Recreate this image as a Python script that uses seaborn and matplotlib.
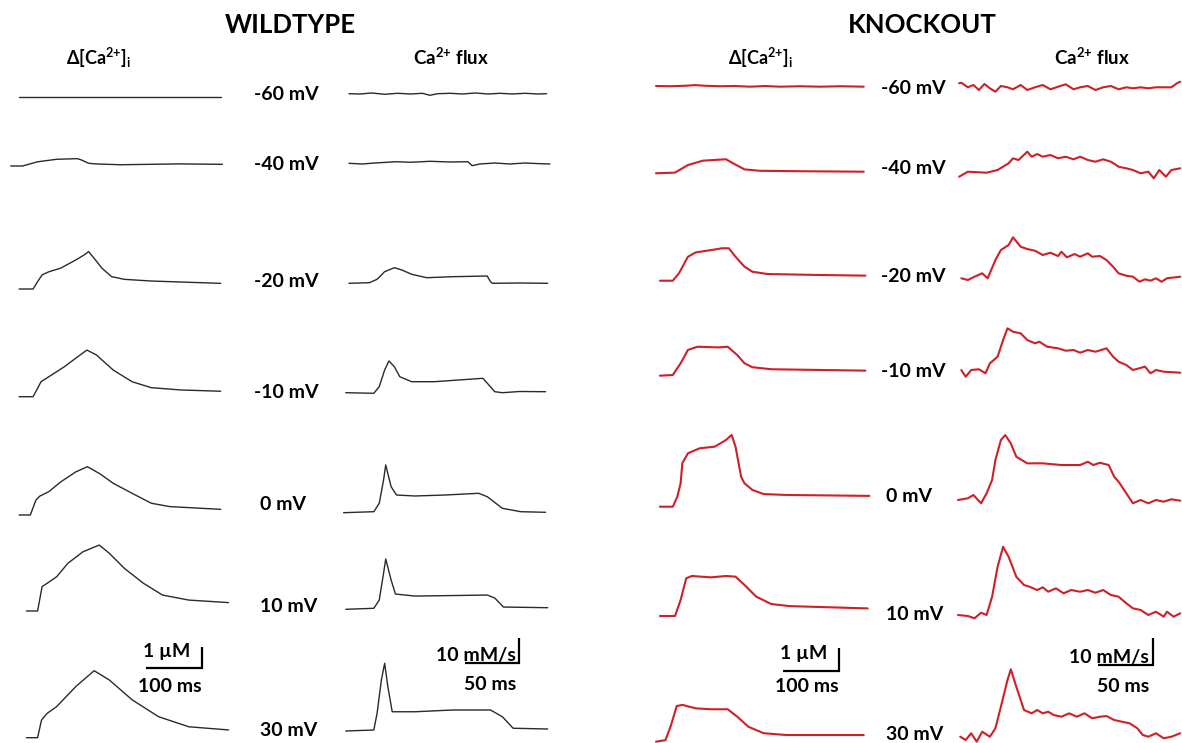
import matplotlib
matplotlib.use("Agg")
import matplotlib.pyplot as plt
import seaborn as sns

# ---------------- data (time in ms, Ca in uM, flux in mM/s) ----------------
VOLTAGES = ["-60 mV", "-40 mV", "-20 mV", "-10 mV", "0 mV", "10 mV", "30 mV"]

WT_CA_T = {
    "-60 mV": [2, 90, 180, 270, 362],
    "-40 mV": [-13, 8, 35, 69, 106, 113, 126, 138, 182, 236, 289, 365],
    "-20 mV": [2, 27, 35, 43, 55, 76, 103, 118, 126, 136, 150, 167, 190, 238, 305, 362],
    "-10 mV": [2, 27, 35, 41, 55, 83, 103, 123, 140, 170, 204, 238, 291, 362],
    "0 mV": [2, 22, 32, 39, 55, 76, 103, 124, 147, 170, 204, 238, 271, 362],
    "10 mV": [15, 35, 43, 52, 69, 89, 116, 145, 163, 190, 224, 258, 305, 376],
    "30 mV": [15, 35, 42, 52, 69, 103, 136, 163, 204, 251, 305, 376],
}
WT_CA_V = {
    "-60 mV": [0, 0, 0, 0, 0],
    "-40 mV": [0, 0, 0.20, 0.32, 0.35, 0.29, 0.13, 0.10, 0.06, 0.08, 0.10, 0.08],
    "-20 mV": [0, 0, 0.35, 0.67, 0.82, 0.99, 1.38, 1.62, 1.78, 1.46, 0.99, 0.59, 0.46, 0.38, 0.32, 0.27],
    "-10 mV": [0, 0, 0.40, 0.71, 0.95, 1.43, 1.83, 2.22, 1.99, 1.27, 0.71, 0.43, 0.32, 0.26],
    "0 mV": [0, 0, 0.71, 0.90, 1.11, 1.57, 2.05, 2.30, 1.95, 1.51, 1.03, 0.56, 0.40, 0.27],
    "10 mV": [0, 0, 1.16, 1.32, 1.63, 2.27, 2.82, 3.14, 2.75, 2.03, 1.32, 0.76, 0.52, 0.40],
    "30 mV": [0, 0, 0.84, 1.16, 1.48, 2.43, 3.19, 2.75, 1.80, 1.00, 0.52, 0.37],
}

WT_FLUX_T = {
    "-60 mV": [0, 10, 21, 33, 45, 57, 68, 75, 82, 94, 105, 117, 129, 140, 151, 163, 175, 183],
    "-40 mV": [0, 12, 24, 44, 57, 75, 94, 110, 114, 121, 135, 149, 163, 177, 186],
    "-20 mV": [0, 19, 26, 33, 42, 49, 58, 72, 96, 128, 131, 133, 158, 184],
    "-10 mV": [-3, 23, 28, 33, 37, 42, 47, 58, 79, 124, 135, 142, 158, 182],
    "0 mV": [-5, 23, 28, 32, 34, 39, 44, 61, 89, 120, 128, 142, 159, 182],
    "10 mV": [-3, 23, 28, 32, 34, 39, 43, 61, 96, 128, 135, 143, 184],
    "30 mV": [-3, 23, 26, 30, 33, 36, 40, 61, 96, 131, 142, 152, 184],
}
WT_FLUX_V = {
    "-60 mV": [0, -0.12, 0.28, -0.24, 0.16, -0.12, 0.16, -0.64, 0, 0.16, -0.12, 0.28, -0.12, 0.16, -0.12, 0.16, -0.12, 0],
    "-40 mV": [0, -0.28, 0.12, 0.64, 0.4, 0.8, 0.52, 0.64, -0.96, -0.28, 0.12, -0.28, 0.12, -0.16, -0.28],
    "-20 mV": [0, 0.24, 1.6, 4.64, 6.24, 5.32, 3.6, 2.24, 2.64, 2.92, 0.64, 0, 0.12, 0],
    "-10 mV": [0, -0.24, 2.4, 9.08, 12.68, 10.4, 6.4, 4.4, 4.4, 5.76, 0.4, 0, 0.48, 0.4],
    "0 mV": [0, 0.4, 3.76, 13.08, 19.08, 10.4, 7.08, 6.68, 7.08, 7.76, 6.4, 1.76, 0.4, 0.16],
    "10 mV": [0, 0.4, 3.72, 14.4, 20.12, 11.7, 6.1, 5.3, 5.5, 5.7, 4.5, 0.9, 0.64],
    "30 mV": [0, 0.4, 7.1, 20.4, 27.1, 17.7, 7.7, 7.7, 8.4, 8.4, 5.7, 1.1, 0.8],
}

KO_CA_T = {
    "-60 mV": [0, 25, 52, 70, 88, 114, 141, 168, 195, 221, 257, 293, 329, 371],
    "-40 mV": [0, 34, 57, 84, 125, 138, 158, 185, 257, 371],
    "-20 mV": [7, 30, 41, 57, 71, 98, 118, 130, 142, 158, 172, 199, 287, 374],
    "-10 mV": [7, 30, 44, 57, 74, 111, 128, 145, 158, 172, 206, 374],
    "0 mV": [7, 30, 38, 44, 47, 57, 78, 105, 125, 135, 142, 152, 158, 172, 192, 233, 381],
    "10 mV": [7, 34, 44, 54, 64, 98, 125, 142, 158, 179, 206, 239, 378],
    "30 mV": [0, 17, 27, 37, 47, 71, 98, 128, 145, 165, 192, 233, 371],
}
KO_CA_V = {
    "-60 mV": [0, -0.01, 0.01, 0.04, 0.01, -0.01, 0, -0.03, 0, -0.03, -0.01, -0.03, -0.01, -0.03],
    "-40 mV": [0, 0.03, 0.36, 0.55, 0.61, 0.43, 0.17, 0.11, 0.09, 0.07],
    "-20 mV": [0, 0, 0.32, 1.04, 1.23, 1.33, 1.41, 1.41, 1.04, 0.61, 0.39, 0.29, 0.25, 0.22],
    "-10 mV": [0, 0.03, 0.54, 1.12, 1.26, 1.23, 1.26, 0.90, 0.54, 0.37, 0.28, 0.22],
    "0 mV": [0, 0, 0.43, 1.02, 1.89, 2.32, 2.54, 2.61, 2.90, 3.12, 2.61, 1.30, 1.02, 0.73, 0.55, 0.51, 0.47],
    "10 mV": [0, 0, 0.70, 1.64, 1.74, 1.68, 1.74, 1.71, 1.35, 0.84, 0.52, 0.43, 0.33],
    "30 mV": [0, 0.07, 0.73, 1.55, 1.60, 1.45, 1.41, 1.41, 1.09, 0.65, 0.37, 0.29, 0.29],
}

KO_FLUX_T = {
    "-60 mV": [1, 3, 9, 14, 19, 24, 29, 34, 39, 45, 50, 57, 63, 70, 77, 84, 91, 98, 105, 111,
               118, 125, 132, 139, 146, 153, 159, 166, 173, 180, 187, 194, 199, 202],
    "-40 mV": [1, 9, 26, 36, 46, 50, 55, 63, 67, 72, 77, 84, 91, 98, 105, 111, 118, 125, 132, 139,
               146, 153, 159, 166, 173, 178, 183, 189, 194, 202],
    "-20 mV": [3, 9, 15, 22, 27, 34, 39, 46, 50, 57, 63, 70, 77, 84, 91, 94, 99, 106, 111, 118,
               122, 129, 135, 141, 146, 153, 159, 165, 170, 175, 180, 185, 190, 202],
    "-10 mV": [3, 7, 12, 19, 25, 29, 36, 41, 45, 50, 57, 63, 70, 74, 81, 91, 98, 105, 111, 118,
               125, 135, 141, 146, 153, 159, 170, 175, 180, 187, 202],
    "0 mV": [0, 9, 14, 21, 26, 31, 34, 39, 43, 48, 53, 63, 77, 94, 111, 118, 123, 129, 137, 142,
             146, 153, 159, 166, 173, 180, 187, 194, 202],
    "10 mV": [0, 9, 15, 21, 26, 31, 36, 41, 46, 53, 60, 65, 72, 77, 82, 89, 96, 103, 111, 118,
              125, 132, 139, 146, 153, 159, 166, 173, 180, 187, 190, 196, 202],
    "30 mV": [2, 7, 12, 17, 22, 29, 34, 39, 45, 48, 53, 60, 67, 72, 77, 82, 87, 94, 101, 108,
              115, 122, 129, 135, 142, 149, 156, 163, 168, 173, 180, 187, 194, 202],
}
KO_FLUX_V = {
    "-60 mV": [1.0, 1.22, -0.48, 0.37, -1.48, 0.74, -0.85, -2.1, 0, -0.48, -1.22, 0.37, -1.48, -0.48,
               0.37, -1.22, -0.26, 0.63, -1.22, -0.48, 0, -1.48, -0.48, 0, -1.22, -0.48, -0.85,
               -0.48, -0.85, -0.48, -0.48, -0.48, 1.0, 1.59],
    "-40 mV": [0, 1.85, 1.48, 2.48, 4.96, 6.81, 6.18, 9.25, 7.40, 8.40, 7.40, 8.03, 6.81, 7.40,
               6.44, 7.40, 6.18, 5.55, 6.44, 5.55, 3.70, 3.11, 2.48, 1.26, 1.85, -0.59, 2.48, 0,
               2.48, 3.11],
    "-20 mV": [0, -0.63, 0.59, 1.85, 0, 6.77, 10.47, 12.32, 15.17, 11.69, 10.84, 10.21, 8.62,
               9.47, 8.25, 9.84, 7.77, 8.99, 7.99, 9.25, 7.99, 8.25, 6.77, 4.29, 1.85, 0.96, 0.59,
               -1.26, -0.37, -0.89, 0, -1.26, 0, 0.59],
    "-10 mV": [0, -2.48, 0, 0.26, -1.22, 2.48, 4.92, 11.1, 15.43, 14.17, 13.58, 11.1, 9.88, 10.47,
               8.62, 8.03, 7.14, 7.40, 6.40, 7.40, 6.77, 8.03, 4.92, 3.07, 1.85, 0, 1.22, -1.22,
               0, -0.63, -1.0],
    "0 mV": [0, 0.63, 1.85, -1.22, 2.48, 7.4, 14.8, 22.2, 24.05, 20.98, 16.02, 13.58, 13.58,
             12.95, 12.95, 14.17, 12.95, 13.8, 12.95, 8.62, 6.77, 2.48, -1.22, 0, -1.22, 0,
             -0.63, 0.26, -0.26],
    "10 mV": [0, -0.37, -1.22, 0.85, 0, 6.77, 17.87, 25.27, 21.57, 14.17, 11.1, 10.47, 9.25,
              10.25, 8.62, 9.88, 8.03, 9.25, 8.62, 9.25, 8.25, 9.25, 7.40, 6.77, 4.33, 2.48, 1.85,
              0, 1.22, -0.63, 1.22, -0.63, 0.63],
    "30 mV": [0, -1.22, 1.26, -1.85, 1.85, 0, 3.11, 11.1, 20.98, 24.94, 18.5, 9.88, 8.66, 9.88,
              8.66, 9.25, 8.03, 7.4, 8.66, 7.4, 8.66, 6.81, 7.4, 7.66, 6.18, 5.55, 4.96, 3.11,
              0.63, 0, 1.26, -0.59, 0, 1.26],
}

# scale bars: (time ms, amplitude)
CA_SCALE = (100, 1)
FLUX_SCALE = (50, 10)
CA_SCALE_TEXT = ("1 µM", "100 ms")
FLUX_SCALE_TEXT = ("10 mM/s", "50 ms")

# ---------------- layout (pixels of a 1182 x 743 canvas) ----------------
W, H = 1182, 743
WT_COLOR = "#2a2a2a"
KO_COLOR = "#cf1f27"

COLUMNS = [
    dict(t=WT_CA_T, v=WT_CA_V, x0=18, px_ms=0.56, px_u=21, color=WT_COLOR, lw=1.0,
         base=[96.7, 166, 289, 396.7, 515, 611, 737.7], bar=(201.7, 668.3), scale=CA_SCALE),
    dict(t=WT_FLUX_T, v=WT_FLUX_V, x0=349, px_ms=1.08, px_u=2.5, color=WT_COLOR, lw=1.0,
         base=[93.7, 163.3, 283.3, 392.7, 512.7, 609.3, 731], bar=(519.3, 663.3), scale=FLUX_SCALE),
    dict(t=KO_CA_T, v=KO_CA_V, x0=656, px_ms=0.56, px_u=23, color=KO_COLOR, lw=1.5,
         base=[86, 173.3, 280.7, 375.7, 506.7, 616, 741.7], bar=(839, 671), scale=CA_SCALE),
    dict(t=KO_FLUX_T, v=KO_FLUX_V, x0=958, px_ms=1.1, px_u=2.7, color=KO_COLOR, lw=1.5,
         base=[86, 176.7, 278.3, 370, 500, 615, 736.7], bar=(1153.3, 665), scale=FLUX_SCALE),
]

sns.set_theme(style="white")
plt.rcParams["font.family"] = ["Lato", "DejaVu Sans"]
plt.rcParams["font.weight"] = "bold"
plt.rcParams["mathtext.fontset"] = "custom"
plt.rcParams["mathtext.bf"] = "Lato:bold"
plt.rcParams["mathtext.rm"] = "Lato:bold"
plt.rcParams["mathtext.default"] = "bf"

fig = plt.figure(figsize=(W / 100, H / 100), dpi=100)
fig.patch.set_facecolor("white")

for col in COLUMNS:
    ax = fig.add_axes([0, 0, 1, 1])
    ax.patch.set_alpha(0)
    for i, volt in enumerate(VOLTAGES):
        offset = col["base"][i] / col["px_u"]
        y = [val - offset for val in col["v"][volt]]
        sns.lineplot(x=col["t"][volt], y=y, ax=ax, color=col["color"], linewidth=col["lw"],
                     sort=False, estimator=None)
    # scale bar
    cx = (col["bar"][0] - col["x0"]) / col["px_ms"]
    cy = -col["bar"][1] / col["px_u"]
    dt, dv = col["scale"]
    ax.plot([cx - dt, cx, cx], [cy, cy, cy + dv], color="black", lw=1.6,
            solid_joinstyle="miter", solid_capstyle="butt")
    ax.set_xlim(-col["x0"] / col["px_ms"], (W - col["x0"]) / col["px_ms"])
    ax.set_ylim(-H / col["px_u"], 0)
    ax.axis("off")


def ftext(x, y, s, size, ha="center", **kw):
    fig.text(x / W, 1 - y / H, s, fontsize=size, ha=ha, va="center", fontweight="bold",
             color="black", **kw)


ftext(290, 25, "WILDTYPE", 18.5)
ftext(922, 25, "KNOCKOUT", 18.5)
ftext(98, 58, r"Δ[Ca$^{2{+}}$]$_{i}$", 13)
ftext(451, 57, r"Ca$^{2{+}}$ flux", 13.5)
ftext(760, 58, r"Δ[Ca$^{2{+}}$]$_{i}$", 13)
ftext(1092, 57, r"Ca$^{2{+}}$ flux", 13.5)

WT_LABEL_POS = [(253.6, 94), (253.6, 165), (253.6, 282), (253.6, 393), (260, 504), (260, 607), (260, 730)]
KO_LABEL_POS = [(880.6, 88), (880.6, 168), (880.6, 277), (880.6, 372), (886, 496), (886, 614), (886, 735)]
for volt, (x, y) in zip(VOLTAGES, WT_LABEL_POS):
    ftext(x, y, volt, 14, ha="left")
for volt, (x, y) in zip(VOLTAGES, KO_LABEL_POS):
    ftext(x, y, volt, 14, ha="left")

# scale bar labels
ftext(167, 652, CA_SCALE_TEXT[0], 14)
ftext(170, 686, CA_SCALE_TEXT[1], 14)
ftext(476, 656, FLUX_SCALE_TEXT[0], 14)
ftext(490, 685, FLUX_SCALE_TEXT[1], 14)
ftext(804, 653, CA_SCALE_TEXT[0], 14)
ftext(807, 687, CA_SCALE_TEXT[1], 14)
ftext(1109, 658, FLUX_SCALE_TEXT[0], 14)
ftext(1123, 687, FLUX_SCALE_TEXT[1], 14)

fig.savefig("out.png", dpi=100, facecolor="white")
